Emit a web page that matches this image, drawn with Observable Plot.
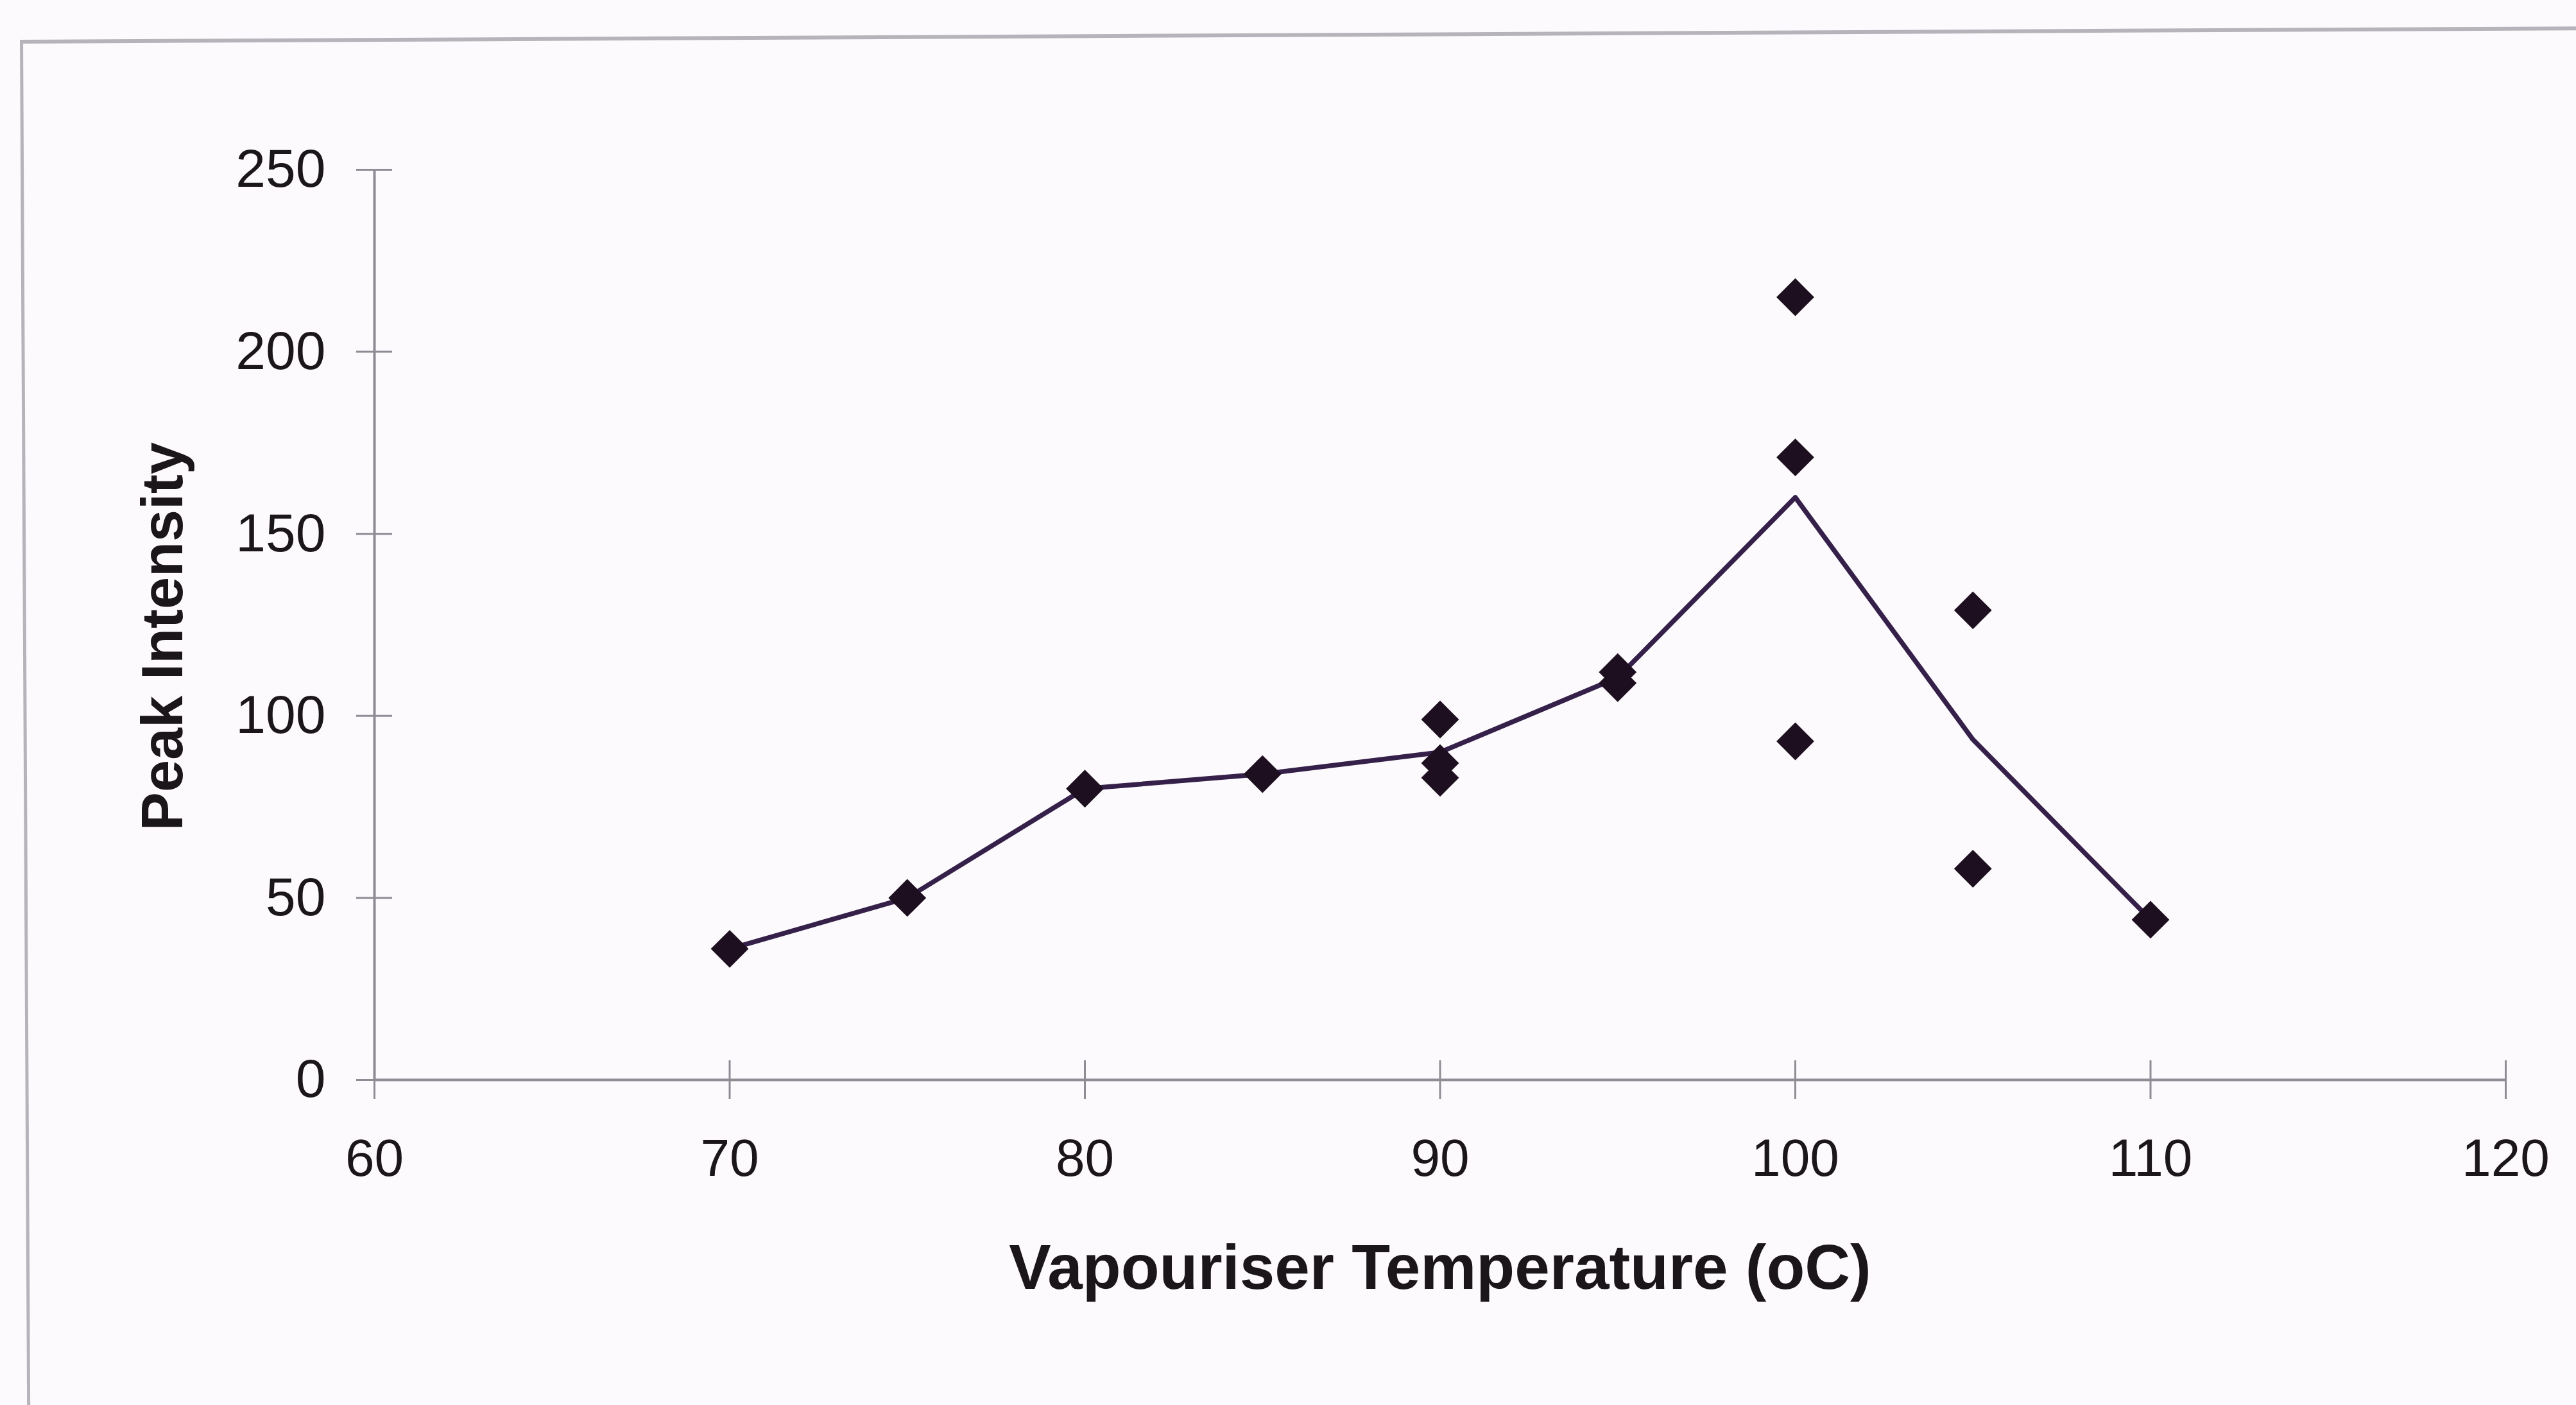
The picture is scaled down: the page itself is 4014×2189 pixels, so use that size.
<!DOCTYPE html>
<html><head><meta charset="utf-8">
<script src="https://cdn.jsdelivr.net/npm/d3@7"></script>
<script src="https://cdn.jsdelivr.net/npm/@observablehq/plot@0.6"></script>
<style>
html,body{margin:0;padding:0;background:#fcfafc;overflow:hidden;}
#wrap{position:relative;width:4014px;height:2189px;overflow:hidden;}
#frame{position:absolute;left:31px;top:62px;width:4200px;height:2400px;border-left:5px solid #b6b3ba;border-top:6px solid #b6b3ba;transform-origin:0 0;transform:rotate(-0.3deg);}
#chart{position:absolute;left:0;top:0;}
</style></head><body>
<div id="wrap"><div id="frame"></div><div id="chart"></div></div>
<script>
// Individual measurements
const temperatures = [70, 75, 80, 85, 90, 90, 90, 95, 95, 100, 100, 100, 105, 105, 110];
const intensities  = [36, 50, 80, 84, 99, 87, 83, 112, 109, 215, 171, 93, 129, 58, 44];
// Average line
const meanTemps     = [70, 75, 80, 85, 90, 95, 100, 105, 110];
const meanIntensity = [36, 50, 80, 84, 90, 110.5, 160, 93.5, 44];
// Ticks
const xTicks = [60, 70, 80, 90, 100, 110, 120];
const yTicks = [0, 50, 100, 150, 200, 250];
const xTitle = "Vapouriser Temperature (oC)";
const yTitle = "Peak Intensity";

const points = temperatures.map((t, i) => ({t, v: intensities[i]}));
const means = meanTemps.map((t, i) => ({t, v: meanIntensity[i]}));

const axisGray = "#8e8c94";
const ink = "#1b1619";

const chart = Plot.plot({
  width: 4014, height: 2189,
  marginLeft: 583, marginRight: 110, marginTop: 264, marginBottom: 507,
  style: {background: "transparent", fontFamily: "'Liberation Sans', Arial, sans-serif", color: ink},
  x: {domain: [60, 120]},
  y: {domain: [0, 250]},
  marks: [
    Plot.ruleX([60], {y1: 0, y2: 250, stroke: axisGray, strokeWidth: 4}),
    Plot.ruleY([0], {x1: 60, x2: 120, stroke: axisGray, strokeWidth: 4}),
    Plot.axisY(yTicks, {tickSize: 56, dx: 28, tickFormat: () => "", stroke: axisGray, strokeWidth: 3, label: null}),
    Plot.axisY(yTicks, {tickSize: 0, tickPadding: 76, fontSize: 84, label: null, fill: ink}),
    Plot.axisX(xTicks, {tickSize: 60, dy: -30, tickFormat: () => "", stroke: axisGray, strokeWidth: 3, label: null}),
    Plot.axisX(xTicks, {tickSize: 0, tickPadding: 91, fontSize: 82, label: null, fill: ink}),
    Plot.line(means, {x: "t", y: "v", stroke: "#35204a", strokeWidth: 7.5}),
    Plot.dot(points, {x: "t", y: "v", symbol: "diamond2", r: 26.5, fill: "#1d0f1f", stroke: "none"}),
    Plot.text([yTitle], {frameAnchor: "left", textAnchor: "middle", lineAnchor: "middle", rotate: -90, dx: -328, dy: 18, fontSize: 90, fontWeight: "bold", fill: ink}),
    Plot.text([xTitle], {frameAnchor: "bottom", textAnchor: "middle", lineAnchor: "middle", dy: 294, fontSize: 98, fontWeight: "bold", fill: ink})
  ]
});
document.getElementById("chart").appendChild(chart);
</script>
</body></html>
